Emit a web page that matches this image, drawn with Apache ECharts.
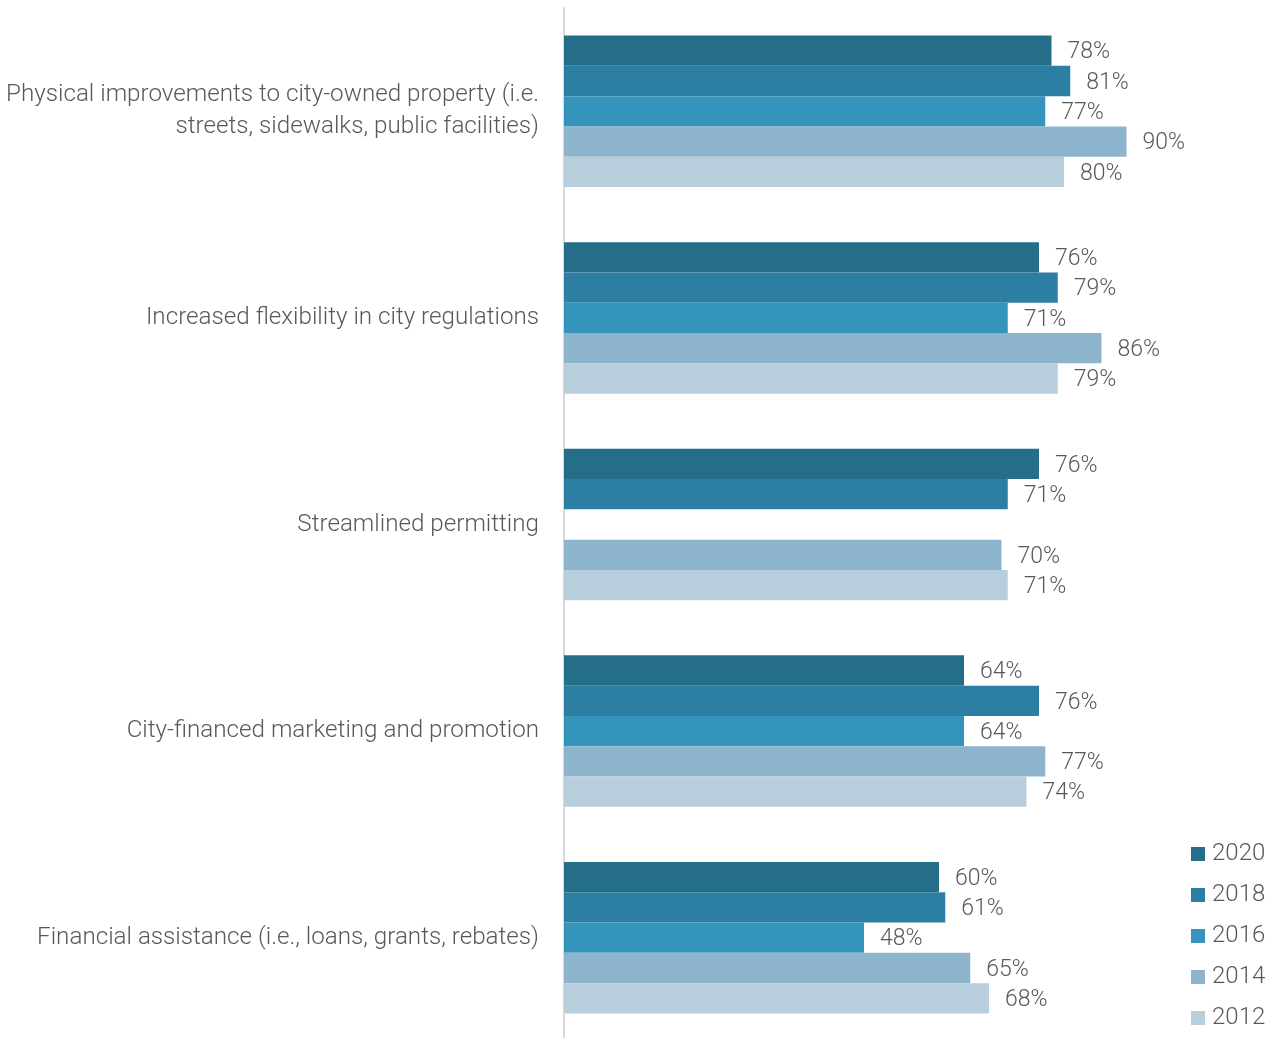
<!DOCTYPE html>
<html>
<head>
<meta charset="utf-8">
<style>
  html, body { margin: 0; padding: 0; background: #ffffff; }
  #chart { width: 1278px; height: 1038px; }
</style>
<script src="https://cdn.jsdelivr.net/npm/echarts@6/dist/echarts.min.js"></script>
</head>
<body>
<div id="chart"></div>
<script>
// Survey categories, top to bottom
const categories = [
  'Physical improvements to city-owned property (i.e.\nstreets, sidewalks, public facilities)',
  'Increased flexibility in city regulations',
  'Streamlined permitting',
  'City-financed marketing and promotion',
  'Financial assistance (i.e., loans, grants, rebates)'
];

// Share of respondents (%) per survey year
const years = ['2020', '2018', '2016', '2014', '2012'];
const values2020 = [78, 76, 76, 64, 60];
const values2018 = [81, 79, 71, 76, 61];
const values2016 = [77, 71, null, 64, 48];
const values2014 = [90, 86, 70, 77, 65];
const values2012 = [80, 79, 71, 74, 68];

const seriesValues = [values2020, values2018, values2016, values2014, values2012];
const colors = ['#246e8a', '#2c7fa3', '#3494bb', '#8cb4cd', '#b8cedc'];

const textColor = '#595959';
const fontFamily = 'Roboto, "Noto Sans", sans-serif';

const chart = echarts.init(document.getElementById('chart'));

chart.setOption({
  animation: false,
  backgroundColor: '#ffffff',
  color: colors,
  grid: {
    left: 564,
    top: 8,
    width: 625,
    height: 1033,
    outerBoundsMode: 'none'
  },
  legend: {
    orient: 'vertical',
    left: 1186,
    top: 837,
    itemWidth: 14,
    itemHeight: 14,
    itemGap: 17,
    icon: 'rect',
    textStyle: {
      color: textColor,
      fontFamily: fontFamily,
      fontWeight: 300,
      fontSize: 24,
      padding: [0, 0, 0, 2]
    },
    data: years
  },
  xAxis: {
    type: 'value',
    min: 0,
    max: 100,
    show: false
  },
  yAxis: {
    type: 'category',
    inverse: true,
    data: categories,
    axisLine: { show: true, lineStyle: { color: '#d9d9d9', width: 2 } },
    axisTick: { show: false },
    axisLabel: {
      margin: 25,
      color: textColor,
      fontFamily: fontFamily,
      fontWeight: 300,
      fontSize: 24.2,
      lineHeight: 32,
      padding: [4, 0, 0, 0],
      align: 'right'
    }
  },
  series: years.map((year, i) => ({
    name: year,
    type: 'bar',
    data: seriesValues[i],
    barWidth: 30.3,
    barGap: '0%',
    itemStyle: { color: colors[i] },
    label: {
      show: true,
      position: 'right',
      distance: 16,
      offset: [0, 2],
      formatter: (p) => p.value == null ? '' : p.value + '%',
      color: textColor,
      fontFamily: fontFamily,
      fontWeight: 300,
      fontSize: 23
    }
  }))
});
</script>
</body>
</html>
